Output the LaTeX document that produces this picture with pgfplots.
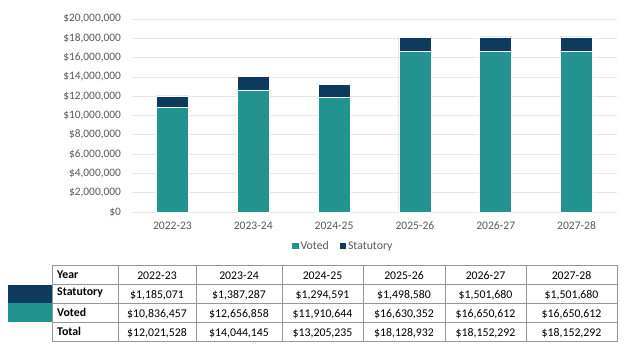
\documentclass[border=0pt]{standalone}
\usepackage{pgfplots}
\pgfplotsset{compat=1.18}
\usepackage{fontspec}
\setmainfont{Carlito}
\definecolor{voted}{RGB}{34,147,142}
\definecolor{statut}{RGB}{14,58,94}
\definecolor{gridc}{RGB}{230,230,230}
\definecolor{labc}{RGB}{89,89,89}
\definecolor{tabline}{RGB}{150,150,150}
\begin{document}
\begin{tikzpicture}[x=1pt,y=-1pt]
\path[use as bounding box,fill=white] (0,0) rectangle (624,351);
\begin{axis}[
  at={(132pt,-212pt)}, anchor=south west,
  scale only axis, width=485pt, height=193pt,
  ybar stacked, bar width=32pt,
  xmin=-0.5, xmax=5.5, ymin=0, ymax=20000000,
  xtick={0,1,2,3,4,5},
  xticklabels={2022-23,2023-24,2024-25,2025-26,2026-27,2027-28},
  ytick={0,2000000,4000000,6000000,8000000,10000000,12000000,14000000,16000000,18000000,20000000},
  scaled y ticks=false,
  yticklabels={{\$0},{\$2,000,000},{\$4,000,000},{\$6,000,000},{\$8,000,000},{\$10,000,000},{\$12,000,000},{\$14,000,000},{\$16,000,000},{\$18,000,000},{\$20,000,000}},
  axis line style={draw=none},
  major tick length=0pt,
  ymajorgrids, grid style={gridc, line width=0.8pt},
  yticklabel style={font=\fontsize{11.4}{12}\selectfont, text=labc, anchor=east, xshift=-7.5pt},
  xticklabel style={font=\fontsize{11.6}{13}\selectfont, text=labc, yshift=-6pt},
  legend style={at={(0.436,-0.176)}, anchor=center, draw=none, fill=none,
    font=\fontsize{11.8}{13}\selectfont, text=labc, legend columns=2,
    /tikz/every even column/.append style={column sep=9pt}},
  legend cell align=left,
]
\addplot[fill=voted, draw=white, line width=0.6pt,
  legend image code/.code={\fill[voted] (0pt,-2.8pt) rectangle (5.6pt,2.8pt);}]
  coordinates {(0,10836457) (1,12656858) (2,11910644) (3,16630352) (4,16650612) (5,16650612)};
\addlegendentry{Voted}
\addplot[fill=statut, draw=white, line width=0.6pt,
  legend image code/.code={\fill[statut] (0pt,-2.8pt) rectangle (5.6pt,2.8pt);}]
  coordinates {(0,1185071) (1,1387287) (2,1294591) (3,1498580) (4,1501680) (5,1501680)};
\addlegendentry{Statutory}
\end{axis}
% table swatches
\fill[statut] (8,284.5) rectangle (52,303);
\fill[voted] (8,303) rectangle (52,321.5);
% table grid
\draw[tabline, line width=0.8pt] (52,265) rectangle (617,341);
\foreach \yy in {284,303,322} \draw[tabline, line width=0.8pt] (52,\yy) -- (617,\yy);
\foreach \xx in {118,196,282,363,445,526} \draw[tabline, line width=0.8pt] (\xx,265) -- (\xx,341);
% row labels
\begin{scope}[every node/.style={font=\fontsize{11.8}{13}\selectfont\bfseries, anchor=west, inner sep=0pt}]
\node at (57,274.5) {Year};
\node at (57,293) {Statutory};
\node at (57,312) {Voted};
\node at (57,331) {Total};
\end{scope}
\begin{scope}[every node/.style={font=\fontsize{11.8}{13}\selectfont, anchor=center, inner sep=0pt}]
\foreach \cx/\a/\b/\c/\d in {157/2022-23/{\$1,185,071}/{\$10,836,457}/{\$12,021,528},
  239/2023-24/{\$1,387,287}/{\$12,656,858}/{\$14,044,145},
  322.5/2024-25/{\$1,294,591}/{\$11,910,644}/{\$13,205,235},
  404/2025-26/{\$1,498,580}/{\$16,630,352}/{\$18,128,932},
  485.5/2026-27/{\$1,501,680}/{\$16,650,612}/{\$18,152,292},
  571.5/2027-28/{\$1,501,680}/{\$16,650,612}/{\$18,152,292}}{
  \node at (\cx,275.5) {\a};
  \node at (\cx,295.5) {\b};
  \node at (\cx,314.5) {\c};
  \node at (\cx,333.5) {\d};
}
\end{scope}
\end{tikzpicture}
\end{document}
